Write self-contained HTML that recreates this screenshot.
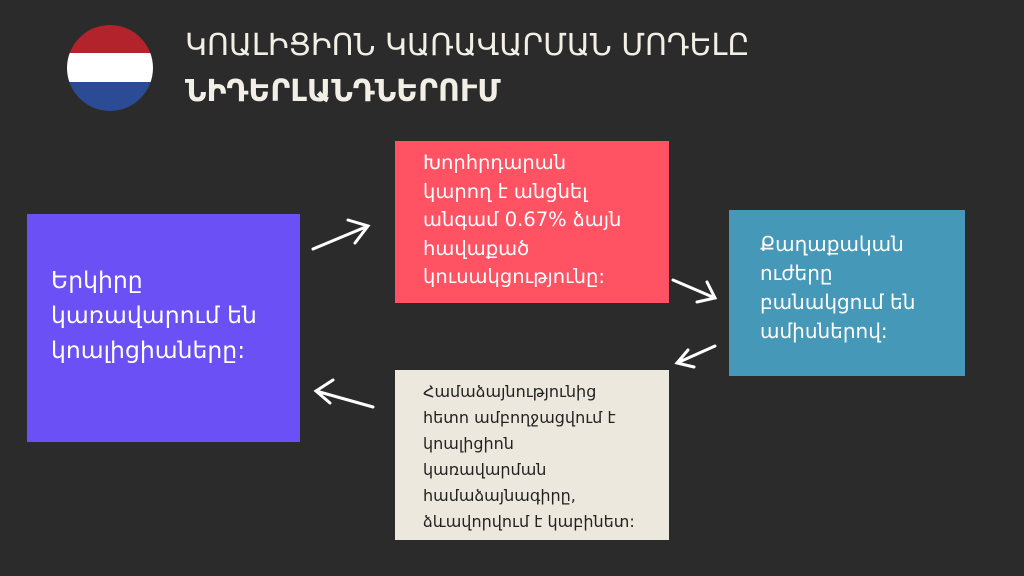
<!DOCTYPE html>
<html><head><meta charset="utf-8"><style>
body{margin:0;width:1024px;height:576px;background:#2b2b2b;position:relative;overflow:hidden;font-family:"DejaVu Sans","Liberation Sans",sans-serif}
.t{position:absolute;color:#f2efe6;white-space:nowrap}
.b{position:absolute;box-sizing:border-box}
.b div{white-space:nowrap}
</style></head><body>
<svg width="1024" height="576" style="position:absolute;left:0;top:0">
<defs><clipPath id="c"><circle cx="110" cy="68" r="43"/></clipPath></defs>
<g clip-path="url(#c)">
<rect x="60" y="20" width="100" height="33" fill="#b3232b"/>
<rect x="60" y="53" width="100" height="29" fill="#fff"/>
<rect x="60" y="82" width="100" height="40" fill="#2c4b95"/>
</g>
<g stroke="#fff" stroke-width="3" fill="none" stroke-linecap="round">
<path d="M313 249 L368 226 M348 220 L368 226 L355 243"/>
<path d="M673 280 L715 298 M697 302 L715 298 L707 282"/>
<path d="M715 346 L677 363 M694 367 L677 363 L688 350"/>
<path d="M373 407 L316 391 M333 380 L316 391 L330 403"/>
</g>
</svg>
<div class="t" style="left:185px;top:28px;font-size:30px">ԿՈԱԼԻՑԻՈՆ ԿԱՌԱՎԱՐՄԱՆ ՄՈԴԵԼԸ</div>
<div class="t" style="left:185px;top:74px;font-size:30px;font-weight:bold">ՆԻԴԵՐԼԱՆԴՆԵՐՈՒՄ</div>
<div class="b" style="left:27px;top:214px;width:273px;height:228px;background:#6b50f6;color:#fff;font-size:23.5px;line-height:35px;padding:49px 0 0 24px">
<div>Երկիրը</div><div>կառավարում են</div><div>կոալիցիաները:</div></div>
<div class="b" style="left:395px;top:141px;width:274px;height:162px;background:#ff5263;color:#fff;font-size:19.5px;line-height:28.5px;padding:8px 0 0 28px">
<div>Խորհրդարան</div><div>կարող է անցնել</div><div>անգամ 0.67% ձայն</div><div>հավաքած</div><div>կուսակցությունը:</div></div>
<div class="b" style="left:729px;top:210px;width:236px;height:166px;background:#4698b9;color:#fff;font-size:20px;line-height:29px;padding:20px 0 0 31px">
<div>Քաղաքական</div><div>ուժերը</div><div>բանակցում են</div><div>ամիսներով:</div></div>
<div class="b" style="left:395px;top:370px;width:274px;height:170px;background:#ece8dd;color:#222;font-size:16px;line-height:26px;padding:9px 0 0 28px">
<div>Համաձայնությունից</div><div>հետո ամբողջացվում է</div><div>կոալիցիոն</div><div>կառավարման</div><div>համաձայնագիրը,</div><div>ձևավորվում է կաբինետ:</div></div>
</body></html>
